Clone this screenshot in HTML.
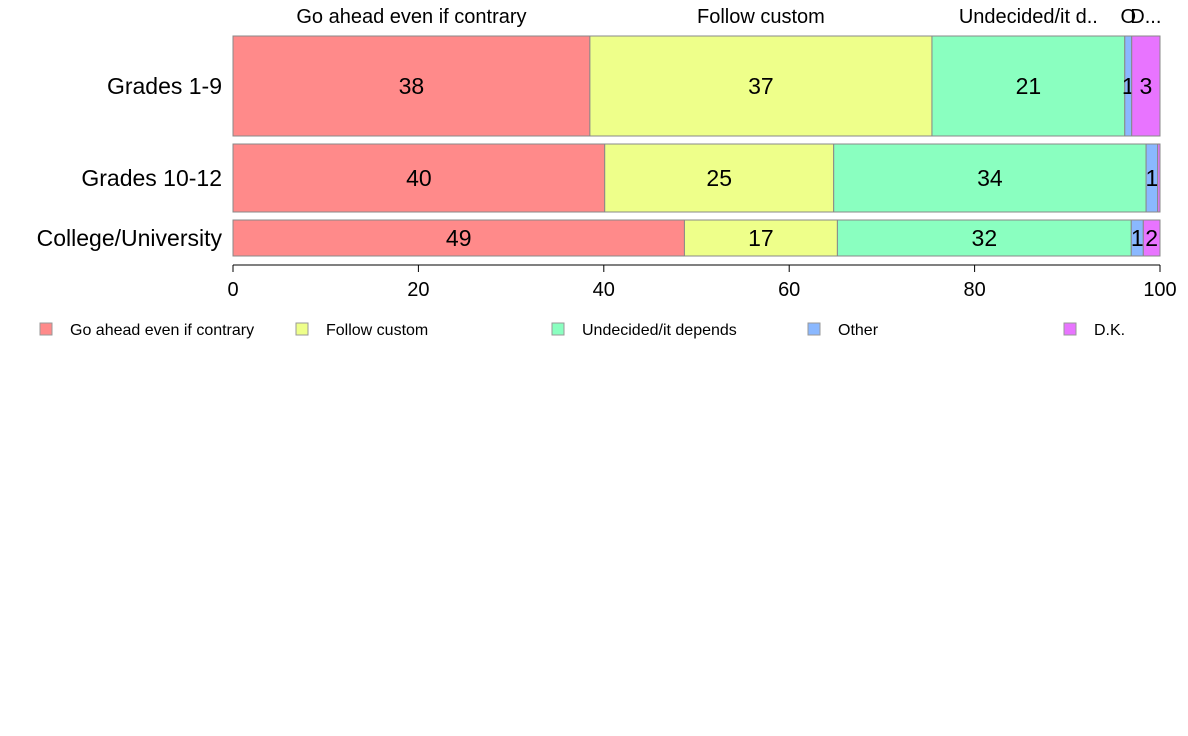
<!DOCTYPE html>
<html><head><meta charset="utf-8"><style>
body{margin:0;background:#fff;}
svg{display:block;font-family:"Liberation Sans",Arial,sans-serif;}
</style></head><body>
<svg id="chart" width="1188" height="736"></svg>
<script>
const categories = ["Grades 1-9","Grades 10-12","College/University"];
const seriesNames = ["Go ahead even if contrary","Follow custom","Undecided/it depends","Other","D.K."];
const topLabels = ["Go ahead even if contrary","Follow custom","Undecided/it d..","O","D..."];
const grades19 = [38.5,36.9,20.8,0.75,3.05];
const grades1012 = [40.1,24.7,33.7,1.25,0.25];
const college = [48.7,16.5,31.7,1.3,1.8];
const printed19 = ["38","37","21","1","3"];
const printed1012 = ["40","25","34","1",""];
const printedCollege = ["49","17","32","1","2"];
const ticks = [0,20,40,60,80,100];
const colors = ["#ff8a8a","#eeff8a","#8affc0","#8ab8ff","#e874ff"];
const strokes = ["#c07070","#b0b880","#70b890","#7090c0","#b060c0"];
const rowsData = [grades19,grades1012,college];
const rowsPrinted = [printed19,printed1012,printedCollege];
const rowBands = [[36,136],[144,212],[220,256]];
const X0=233,X1=1160;
const x = v => X0 + (X1-X0)*v/100;
const svg = document.getElementById('chart');
const NS="http://www.w3.org/2000/svg";
function mk(tag,attrs,text){const e=document.createElementNS(NS,tag);for(const k in attrs)e.setAttribute(k,attrs[k]);if(text!==undefined)e.textContent=text;svg.appendChild(e);return e;}
rowsData.forEach((vals,r)=>{
  let cum=0;const [y0,y1]=rowBands[r];
  vals.forEach((v,i)=>{
    const rect=mk('rect',{x:x(cum),y:y0,width:x(cum+v)-x(cum),height:y1-y0,fill:colors[i],stroke:'#888','stroke-width':1});
    
    
    const lbl=rowsPrinted[r][i];
    if(lbl){const t=mk('text',{x:(x(cum)+x(cum+v))/2,y:(y0+y1)/2+8,'text-anchor':'middle','font-size':23},lbl);
      
      }
    if(r===0){const t=mk('text',{x:(x(cum)+x(cum+v))/2,y:23,'text-anchor':'middle','font-size':20},topLabels[i]);
      
      }
    cum+=v;
  });
  const c=mk('text',{x:222,y:(y0+y1)/2+8,'text-anchor':'end','font-size':23},categories[r]);
  
  
});
const ax=mk('line',{x1:X0,x2:X1,y1:265,y2:265,stroke:'#000'});


ticks.forEach(t=>{
  const l=mk('line',{x1:x(t),x2:x(t),y1:265,y2:272,stroke:'#000'});
  
  
  const tx=mk('text',{x:x(t),y:296,'text-anchor':'middle','font-size':20},String(t));
  
  
});
seriesNames.forEach((n,i)=>{
  const lx=40+256*i;
  const s=mk('rect',{x:lx,y:323,width:12,height:12,fill:colors[i],stroke:'#999'});
  
  
  const t=mk('text',{x:lx+30,y:335,'font-size':16},n);
  
  
});
</script>
</body></html>
